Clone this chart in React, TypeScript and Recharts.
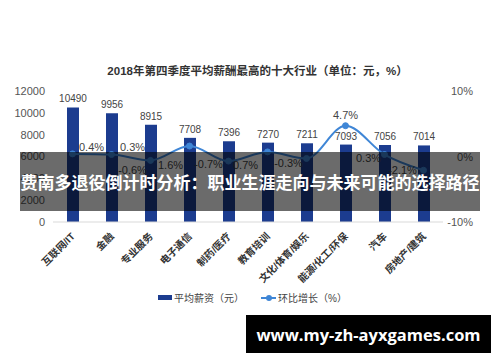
import { Bar, ComposedChart, LabelList, Line, XAxis, YAxis } from 'recharts';

const industries = [
	'互联网/IT',
	'金融',
	'专业服务',
	'电子通信',
	'制药/医疗',
	'教育培训',
	'文化/体育/娱乐',
	'能源/化工/环保',
	'汽车',
	'房地产/建筑',
];
const avgSalary = [10490, 9956, 8915, 7708, 7396, 7270, 7211, 7093, 7056, 7014];
const qoqGrowth = [0.4, 0.3, -0.6, 1.6, -0.7, 0.7, -0.3, 4.7, 0.3, -2.1];
const salaryTicks = [0, 2000, 4000, 6000, 8000, 10000, 12000];
const growthTicks = [-10, 0, 10];

// where each growth label sits relative to its point (dx, dy)
const growthLabelOffsets = [
	[19, -7],
	[21, -8],
	[-18, 10],
	[-19, 19],
	[-20, 3],
	[-22, 13],
	[-18, 5],
	[0, -11],
	[-16, 3],
	[-21, 0],
];

const BAR_COLOR = '#1c3c8f';
const LINE_COLOR = '#3f86d6';
const FONT = 'Arial, "Liberation Sans", "Noto Sans CJK SC", sans-serif';

const chartData = industries.map((name, i) => ({
	name,
	salary: avgSalary[i],
	growth: qoqGrowth[i],
}));

const IndustryTick = (props: any) => {
	const { x, y, payload } = props;
	return (
		<text
			x={x + 3}
			y={y + 7}
			transform={`rotate(-45, ${x + 3}, ${y + 7})`}
			textAnchor="end"
			fontSize={10}
			fontWeight="bold"
			fill="#333"
			fontFamily={FONT}
		>
			{payload.value}
		</text>
	);
};

const GrowthTick = (props: any) => {
	const { x, y, payload } = props;
	return (
		<text x={x + 22} y={y + 4} textAnchor="end" fontSize={11} fill="#555" fontFamily={FONT}>
			{payload.value}%
		</text>
	);
};

const GrowthLabel = (props: any) => {
	const { x, y, value, index } = props;
	const [dx, dy] = growthLabelOffsets[index] || [0, -8];
	return (
		<text
			x={x + dx}
			y={y + dy + 4}
			textAnchor="middle"
			fontSize={11}
			fill="#444"
			fontFamily={FONT}
		>
			{value}%
		</text>
	);
};

export default function App() {
	return (
		<div
			style={{
				position: 'absolute',
				left: 0,
				top: 0,
				width: 500,
				height: 362,
				background: '#fff',
				overflow: 'hidden',
				fontFamily: FONT,
			}}
		>
			<div
				style={{
					position: 'absolute',
					top: 62,
					left: 0,
					width: 515,
					textAlign: 'center',
					fontSize: 11.5,
					fontWeight: 'bold',
					color: '#333',
				}}
			>
				2018年第四季度平均薪酬最高的十大行业（单位：元，%）
			</div>

			<ComposedChart
				width={500}
				height={362}
				data={chartData}
				margin={{ top: 91, right: 0, left: 0, bottom: 70 }}
			>
				<XAxis
					dataKey="name"
					interval={0}
					height={70}
					tickLine={false}
					axisLine={{ stroke: '#d9d9d9' }}
					tick={<IndustryTick />}
				/>
				<YAxis
					yAxisId="left"
					width={53}
					domain={[0, 12000]}
					ticks={salaryTicks}
					tickLine={false}
					axisLine={false}
					tick={{ fontSize: 11, fill: '#555', fontFamily: FONT }}
				/>
				<YAxis
					yAxisId="right"
					orientation="right"
					width={57}
					domain={[-10, 10]}
					ticks={growthTicks}
					tickLine={false}
					axisLine={false}
					tick={<GrowthTick />}
				/>
				<Bar yAxisId="left" dataKey="salary" fill={BAR_COLOR} barSize={12} isAnimationActive={false}>
					<LabelList
						dataKey="salary"
						position="top"
						offset={5}
						style={{ fontSize: 10, fill: '#444', fontFamily: FONT }}
					/>
				</Bar>
				<Line
					yAxisId="right"
					type="monotone"
					dataKey="growth"
					stroke={LINE_COLOR}
					strokeWidth={2}
					dot={{ r: 3, fill: LINE_COLOR, stroke: LINE_COLOR, strokeWidth: 1 }}
					isAnimationActive={false}
				>
					<LabelList dataKey="growth" content={<GrowthLabel />} />
				</Line>
			</ComposedChart>

			{/* legend */}
			<div
				style={{
					position: 'absolute',
					top: 290,
					left: 158,
					display: 'flex',
					alignItems: 'center',
					fontSize: 10,
					color: '#444',
				}}
			>
				<span style={{ display: 'inline-block', width: 14, height: 5, background: BAR_COLOR, marginRight: 2 }} />
				<span>平均薪资（元）</span>
				<span style={{ position: 'relative', display: 'inline-block', width: 15, height: 10, marginLeft: 17, marginRight: 2 }}>
					<span style={{ position: 'absolute', left: 0, top: 4, width: 15, height: 2, background: LINE_COLOR }} />
					<span style={{ position: 'absolute', left: 5, top: 2, width: 6, height: 6, borderRadius: 3, background: LINE_COLOR }} />
				</span>
				<span>环比增长（%）</span>
			</div>

			{/* overlay banner */}
			<div
				style={{
					position: 'absolute',
					left: 20,
					top: 152,
					width: 460,
					height: 59,
					background: 'rgba(0,0,0,0.58)',
					color: '#fff',
					fontSize: 17,
					fontWeight: 'bold',
					display: 'flex',
					alignItems: 'center',
					justifyContent: 'center',
					whiteSpace: 'nowrap',
					fontFamily: '"Noto Sans CJK SC", sans-serif',
				}}
			>
				费南多退役倒计时分析：职业生涯走向与未来可能的选择路径
			</div>

			{/* site mark */}
			<div
				style={{
					position: 'absolute',
					left: 246,
					top: 315,
					width: 245,
					height: 38,
					background: '#000',
					color: '#fff',
					fontSize: 16.5,
					fontWeight: 'bold',
					display: 'flex',
					alignItems: 'center',
					justifyContent: 'center',
					fontFamily: '"Open Sans", "DejaVu Sans", sans-serif',
				}}
			>
				www.my-zh-ayxgames.com
			</div>
		</div>
	);
}
